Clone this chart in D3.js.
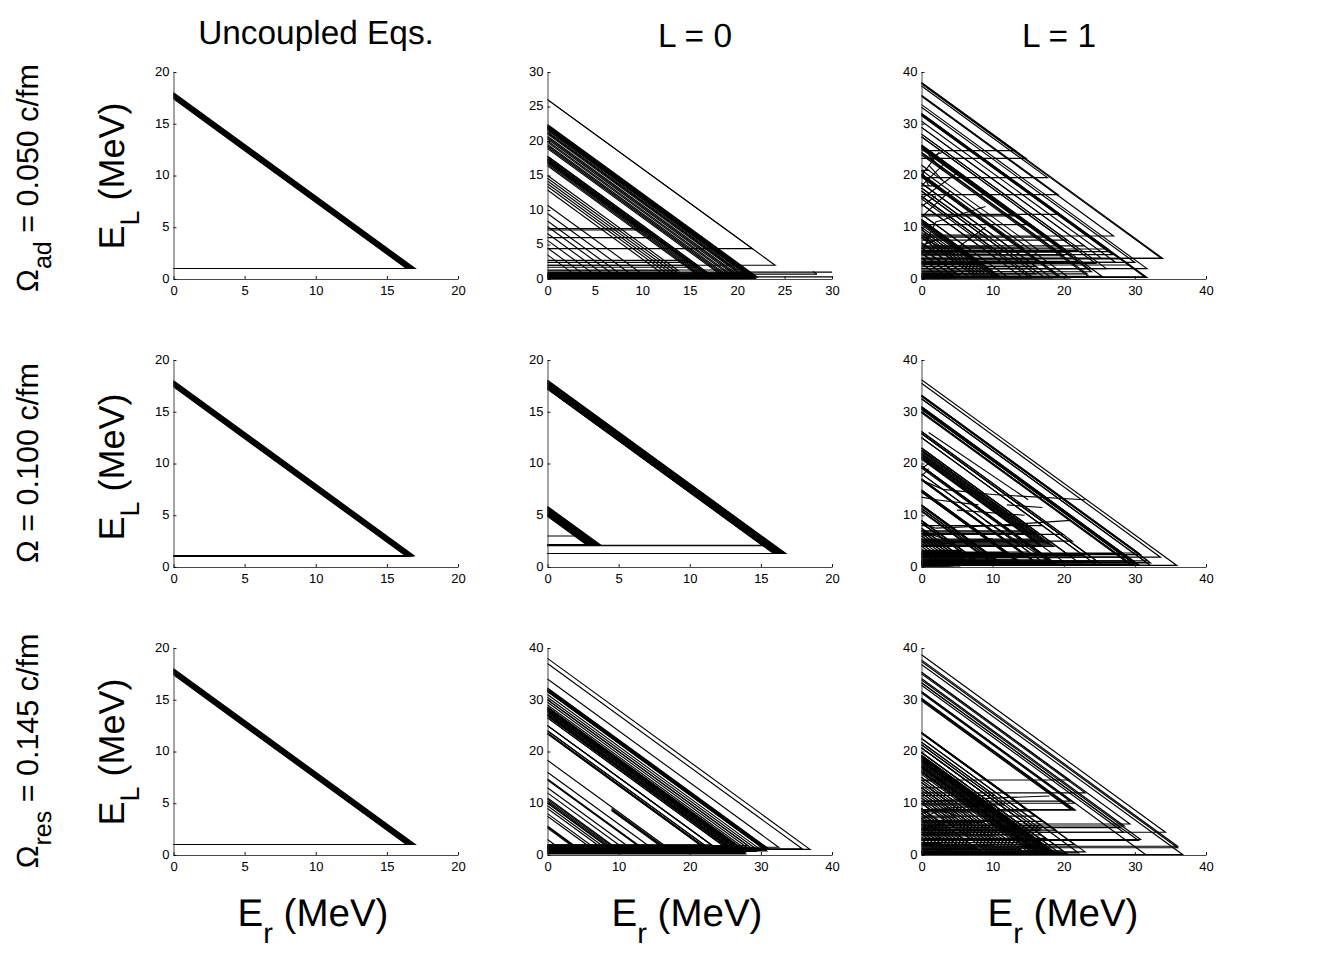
<!DOCTYPE html>
<html><head><meta charset="utf-8">
<script src="https://cdn.jsdelivr.net/npm/d3@7"></script>
<style>html,body{margin:0;padding:0;background:#fff}svg{display:block}text{font-family:"Liberation Sans",Arial,sans-serif;fill:#000;text-rendering:geometricPrecision}</style>
</head><body><svg id="c" width="1332" height="961"></svg>
<script>
// Each trajectory: [E_L at Er=0, E_L after the transition]
const t11=[[18,1.015],[17.95,1.015],[17.9,1.015],[17.85,1.015],[17.8,1.015],[17.75,1.015],[17.7,1.015],[17.65,1.015],[17.6,1.015],[17.55,1.015],[17.5,1.015],[17.45,1.015],[17.4,1.015]];
const t21=[[18,1.1],[17.95,1.1],[17.9,1.1],[17.85,1.1],[17.8,1.1],[17.75,1.1],[17.7,1.1],[17.65,1.1],[17.6,1.1],[17.55,1.1],[17.5,1.1],[17.45,1.1],[17.4,1.1]];
const t31=[[18,1.015],[17.95,1.015],[17.9,1.015],[17.85,1.015],[17.8,1.015],[17.75,1.015],[17.7,1.015],[17.65,1.015],[17.6,1.015],[17.55,1.015],[17.5,1.015],[17.45,1.015],[17.4,1.015]];
const t22=[[18.05,1.3],[18,1.3],[17.95,1.3],[17.9,1.3],[17.85,1.3],[17.8,1.3],[17.75,1.3],[17.7,1.3],[17.65,1.3],[17.6,1.3],[17.55,1.3],[17.5,1.3],[17.45,1.3],[17.4,1.3],[17.35,1.3],[17.3,1.3],[17.25,1.3],[17.2,1.3],[17.2,2.1],[17.25,2.05],
 [5.85,2.1],[5.8,2.1],[5.75,2.1],[5.7,2.1],[5.65,2.1],[5.6,2.1],[5.55,2.1],[5.5,2.1],[5.45,2.1],[5.4,2.1],[5.35,2.1],[5.3,2.1],[5.25,2.1],[5.2,2.1],[5.15,2.1],[5.1,2.1],[5.05,2.1],[5,2.1],[4.95,2.1],[4.9,2.1],[5,3]];
const t12=[[26,2],[26,4.4],[22.4,.3],[22.3,.3],[22.2,.4],[22.1,.4],[22,.4],[21.9,.4],[21.8,.5],[21.7,.5],[21.6,.5],[21.4,.5],[21.2,.6],[21.0,.7],[20.7,.7],[20.5,.6],[20.3,.6],[20,.6],[19.8,.5],[19.5,.5],[19.3,.5],[19.1,.6],[18.9,.4],
 [17.8,.4],[17.6,.4],[17.4,.5],[17.2,.5],[17,.5],[16.8,.5],[16.6,.4],[16.4,.4],[15,1.2],[14.6,.9],[14.2,.7],[13.8,.6],[13.4,.5],[12.9,.3],[10.7,.4],[9.5,.3],[8.4,.3],[7.6,.3],[6.6,.3],[5.6,.2],[4.5,.2],[3.5,.2],
 [17,7.3],[17.2,7.1],[17,6],[17.4,2.7],[17.4,2.4],[17.8,2],[17.4,1.7],[21.2,1.3],[21.8,.9],[22,.7],[22,.55],[22.1,.35],[22,.2],[22,.1]];
const s12=[[0,1,30,1],[0,.3,30,.3],[0,.7,28.4,.7],[28,1.1,28.4,.7],[9,8.5,17,.5]];
const t13=[[38,23.3],[37.9,4],[37.8,24.8],[37.7,4],[37.3,19.6],[35.5,16.3],[35.3,8.3],[33.7,2],[33.2,3.2],[32,.3],[31.9,12.5],[31.8,.4],[31.6,5.3],[30.5,3.2],[29.3,4],[28,2],[27.5,5.5],[25.9,.5],[25.7,6],[25.5,2],[25.3,10.5],[25.1,12.2],[24.5,4.5],[24.3,1],[24,.3],[22,21],[21,.2],[20.3,18],[20,.5],[19.7,.3],[18.5,.2],[17.6,.3],[17,1],[16,.5],[15.5,.2],[14.5,.3],[12.5,.5],[11.5,.3],[11.3,.4],[11.1,.5],[10.8,.4],[10.5,.4],[10,.4],[9.5,.3],[9,.4],[8.5,.3],[8,.4],[7,.3],[6,.3],[5,.2],[4,.2],[3,.2],
 [32,5.8],[31.6,4.7],[31.8,3.9],[31.9,2.7],[29.3,6.4],[28,7.5],[27.5,3],[25.9,5.2],[25.7,8.1],[25.5,3.4],[25.3,1.4],[22,5.5],[20.3,6],[20,3.7],[20,1.4],[18.5,2.4],[17.6,8.5],[17,3.3],[16,4.8],[16,6.2],[14.5,3],[12.5,5.4],[11.5,1.6],[11.1,2.8],[10.8,4],[9.5,5],[8.5,1],[8,3],[7,2],[6,1.2],[6,.8],[5,.6],[4,1]];
const s13=[[0,20,2.5,24.5],[0,18,3,22],[0,15.5,5,20.5],[0,12,4,17],[2,11,9,14],[4,5,9,10],[0,5,2,11],[0,8,3,6],[0,21,1,18],[0,14,2,16],[1,22,3,19],[1,24,3,21],[3,24.5,2,24],[0,10,2,5],[0,6.5,3,8]];
const t23=[[36.2,.3],[35.5,1.9],[33.2,2.7],[33,1.2],[32.5,.3],[31,.5],[30.9,.5],[30.7,.5],[30.5,.4],[30,.3],[29.8,.3],[26.2,5],[25.8,.3],[25,.5],[23,.5],[22.6,4],[22.4,4.2],[22.2,4.4],[22,4.6],[21.8,4.8],[21.6,5],[21.4,5.2],[21.2,5.4],[21,4],[20.8,4.1],[19.5,.3],[19.3,.4],[19.1,.4],[18,.5],[17,.6],[16.8,.6],[14.9,.5],[14.7,.5],[14.5,.5],[12,.4],[11.9,.4],[11.7,.4],[11.3,.8],[10.9,.3],[10.7,1.2],[9,.4],[8.5,.3],[7.5,.3],[7,.5],[6.5,.4],[6,.3],[5.5,.2],[5,.3],[4.5,.2],[4,.2],[3.5,.3],[3,.2],
 [33.2,2.4],[30.7,2.6],[33,.8],[30.9,1.9],[30,1.2],[30.5,1],[32.5,.9],[25.8,2.4],[25,2.2],[26.2,6.3],[25,8],[22.6,6.5],[23,6.8],[21.8,7],[25.8,1.1],[23,1.8],[19.5,2.6],[18,2.9],[17,2.3],[16.8,2],[14.9,1.5],[14.7,1.1],[14.5,2.8],[12,2.5],[11.9,1.7],[11.3,2.7],[10.9,2.1],[9,1.4],[8.5,1.2],[7.5,1.8],[7,2.4],[6.5,2.8],[6,1.1],[9,3.2],[8.5,3],[17,.9],[14.5,1],[19.5,1.4],[19.5,.7],[21,.9]];
const s23=[[0,19,1,20],[0,17.5,1,19],[0,16.8,3,15],[3,15,10,14],[10,14,23,13],[12,12,17,11.5],[0,13.5,2,13],[2,13,8,12],[5,11,14.5,10],[0,8.5,2,7.5],[2,7.5,10,8],[10,8,21,9],[9,8.9,18,1],[0,6,5,6.5],[3,4.5,10,5.5],[0,7,4,5],[17,5,18.2,4.8],[1,26,15,13]];
const t32=[[38,1.1],[37,1.2],[34,1.5],[32.3,1.2],[32.2,1.2],[32.1,1.2],[32,1.2],[31.9,1.2],[31.8,1.2],[31.7,1.1],[31.6,1],[30.5,1.4],[30,1.8],[29.5,1.5],[29,1.5],[28.6,1.4],[28.4,1.4],[28.2,1.4],[28,1.4],[27.8,1.4],[27.6,1.4],[27.4,1.4],[27.2,1.4],[27,1.3],[26.8,1.3],[26.5,1.3],[25,1.6],[24,1.8],[23.6,1.8],[23.4,1.9],[18.3,1.8],[16,1.8],[14.7,1.8],[14.5,1.7],[13,1.8],[12,1.7],[11,1.6],[10.8,1.7],[10.5,1.6],[10.2,1.8],[10,1.7],[9.5,1.8],[9,1.9],[8,1.7],[7.5,1.8],[5.6,1.8],[5.4,1.8],[5.2,1.8],[3,1.8],
 [28.2,.4],[28.4,.6],[28,.5],[28.6,.7],[27.8,.3],[28,.2],[30,.7],[31,.9],[31.6,.8],[28,.85],[27,1.65],[27,1.75],[26.5,1.55],[25,1.95],[23.4,.55],[23.6,.75],[24,1],[25,1.2]];
const s32=[[9,9,16.8,1.2],[9,8.8,16.6,1.2],[9,8.6,16.4,1.2]];
const t33=[[38.7,4.4],[37.7,1.7],[37.4,1.4],[36.8,.1],[35.3,6],[35.3,14.5],[35,12],[34.1,5.6],[33.8,3],[33.3,5.3],[32.8,4.4],[31.6,.1],[31.5,10],[31.3,10.4],[30.3,8.7],[30.2,8.7],[30,8.8],[29.8,8.8],[23.7,4.8],[23.6,.6],[23.5,2],[22.5,.4],[21.8,11.5],[21.3,9.7],[20.7,.3],[19.8,.3],[19.3,.5],[19.1,.3],[19,.3],[18.8,.3],[18.7,.3],[18.5,.3],[18.4,.3],[18.3,.3],[18.2,.3],[18,.3],[17.8,.4],[17.6,.4],[17.4,.4],[17.2,.5],[17,.5],[16.8,.5],[16.6,.6],[16.4,.6],[16.2,.7],[16,.7],[15.6,.5],[15,.5],[14.5,.4],[14,.4],[13.5,.3],[13,.4],[12.5,.3],[12,.3],[11.5,.3],[11,.2],[10.5,.3],[10,.2],[9,.3],[8.5,.3],[8,.4],[7.5,.3],[7,.2],[6.5,.3],[6,.2],[5.5,.2],[5,.2],[4.5,.2],[4,.2],[3.5,.2],[3,.2],
 [33.3,2.8],[23.7,8.5],[23.5,7.5],[23.6,6.5],[22.5,5.7],[21.8,5],[21.3,4.7],[20.7,3.9],[20.7,3.2],[19.8,2.8],[19.3,4],[19.8,2],[19,5.3],[19,4.4],[18,6.7],[18,8.3],[19,1.3],[17,3],[17,1.6],[16,5.8],[16,2.4],[15,6.3],[15,1.1],[14,3.7],[14,4.8],[13,2.8],[13,6],[12,7.2],[12,1.9],[11,4.2],[10,5.4],[10,3.1],[9,1.3],[9,2.4],[8,4],[8,5],[7,1.8],[6,3.2],[6,1],[5,2.2],[20.7,.8]];
const s33=[[0,10.3,10,11],[10,11,18,11.4],[0,14.4,2,14.3],[0,8,2,9],[2,9,5,7.6],[0,7,3,9],[3,9,10,9.6],[0,13,5,13],[0,5,4,6.5]];

const panels=[
 {col:0,row:0,xm:20,ym:20,xt:[0,5,10,15,20],yt:[0,5,10,15,20],tr:t11,seg:[]},
 {col:1,row:0,xm:30,ym:30,xt:[0,5,10,15,20,25,30],yt:[0,5,10,15,20,25,30],tr:t12,seg:s12},
 {col:2,row:0,xm:40,ym:40,xt:[0,10,20,30,40],yt:[0,10,20,30,40],tr:t13,seg:s13},
 {col:0,row:1,xm:20,ym:20,xt:[0,5,10,15,20],yt:[0,5,10,15,20],tr:t21,seg:[]},
 {col:1,row:1,xm:20,ym:20,xt:[0,5,10,15,20],yt:[0,5,10,15,20],tr:t22,seg:[]},
 {col:2,row:1,xm:40,ym:40,xt:[0,10,20,30,40],yt:[0,10,20,30,40],tr:t23,seg:s23},
 {col:0,row:2,xm:20,ym:20,xt:[0,5,10,15,20],yt:[0,5,10,15,20],tr:t31,seg:[]},
 {col:1,row:2,xm:40,ym:40,xt:[0,10,20,30,40],yt:[0,10,20,30,40],tr:t32,seg:s32},
 {col:2,row:2,xm:40,ym:40,xt:[0,10,20,30,40],yt:[0,10,20,30,40],tr:t33,seg:s33}
];
const colX=[173.5,547.5,921.5],rowY=[72,360,648],W=284.5,H=207;
const svg=d3.select('#c');
const line=d3.line();
panels.forEach((p,i)=>{
 const g=svg.append('g').attr('transform',`translate(${colX[p.col]},${rowY[p.row]})`);
 const x=d3.scaleLinear([0,p.xm],[0,W]),y=d3.scaleLinear([0,p.ym],[H,0]);
 const cid='cl'+i;
 g.append('clipPath').attr('id',cid).append('rect').attr('x',-1).attr('y',0).attr('width',W+1).attr('height',H+1);
 const m=g.append('g').attr('clip-path',`url(#${cid})`).attr('fill','none').attr('stroke','#000').attr('stroke-width',1.15);
 m.selectAll('path.t').data(p.tr).join('path').attr('class','t')
  .attr('d',([c,f])=>line([[x(0),y(c)],[x(c-f),y(f)],[x(0),y(f)]]));
 m.selectAll('path.s').data(p.seg).join('path').attr('class','s')
  .attr('d',([a,b,c,d])=>line([[x(a),y(b)],[x(c),y(d)]]));
 const ax=d3.axisBottom(x).tickValues(p.xt).tickFormat(d3.format('d')).tickSizeInner(-3).tickSizeOuter(0).tickPadding(7);
 const ay=d3.axisLeft(y).tickValues(p.yt).tickFormat(d3.format('d')).tickSizeInner(-3).tickSizeOuter(0).tickPadding(4);
 const gx=g.append('g').attr('transform',`translate(0,${H})`).call(ax);
 const gy=g.append('g').call(ay);
 [gx,gy].forEach(a=>{a.selectAll('text').style('font-family','"Liberation Sans"').attr('font-size',13).attr('fill','#000');a.selectAll('line,path').attr('stroke','#000').attr('stroke-width',.9);a.select('.domain').attr('stroke','#333');});
 gy.selectAll('text').attr('dy','0.26em');
});
const titles=['Uncoupled Eqs.','L = 0','L = 1'],titleX=[316,695,1059],titleY=[44,47,47],titleS=[33.4,33.4,33.4];
titles.forEach((t,i)=>svg.append('text').attr('x',titleX[i]).attr('y',titleY[i]).attr('text-anchor','middle').attr('font-size',titleS[i]).text(t));
const xLabX=[313,687,1063];
xLabX.forEach(cx=>{const t=svg.append('text').attr('x',cx).attr('y',926).attr('text-anchor','middle').attr('font-size',38.5);
 t.append('tspan').text('E');t.append('tspan').attr('dy',17).attr('font-size',29).text('r');t.append('tspan').attr('dy',-17).text(' (MeV)');});
const yLabC=[176,467,752];
yLabC.forEach(cy=>{const t=svg.append('text').attr('transform',`translate(124,${cy}) rotate(-90)`).attr('text-anchor','middle').attr('font-size',36);
 t.append('tspan').text('E');t.append('tspan').attr('dy',15).attr('font-size',27).text('L');t.append('tspan').attr('dy',-15).text(' (MeV)');});
const rowLab=[['Ω','ad',' = 0.050 c/fm',178],['Ω','',' = 0.100 c/fm',463],['Ω','res',' = 0.145 c/fm',751]];
rowLab.forEach(([a,b,c,cy])=>{const t=svg.append('text').attr('transform',`translate(38,${cy}) rotate(-90)`).attr('text-anchor','middle').attr('font-size',30.5);
 t.append('tspan').text(a);if(b)t.append('tspan').attr('dy',13).attr('font-size',25).text(b);t.append('tspan').attr('dy',b?-13:0).text(c);});
</script></body></html>
